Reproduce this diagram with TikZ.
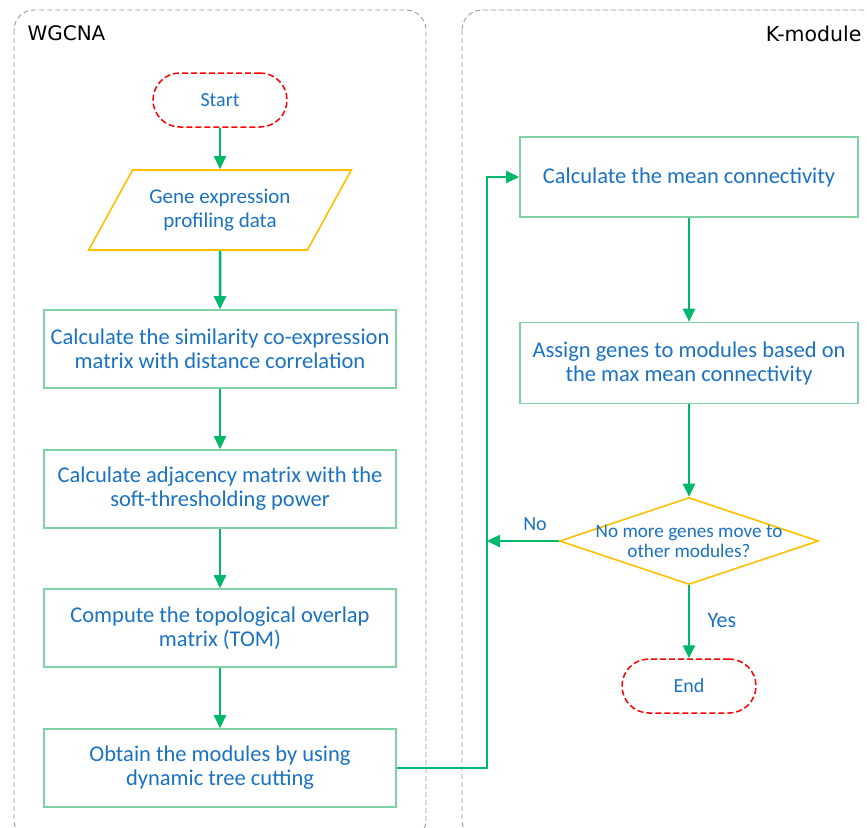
\documentclass[tikz,border=0pt]{standalone}
\usepackage{fontspec}
\setmainfont{Carlito}
\newfontfamily\titlefont{DejaVu Sans}
\usetikzlibrary{shapes.geometric,shapes.misc,arrows.meta}
\definecolor{flowgreen}{HTML}{00B86B}
\definecolor{boxgreen}{HTML}{80D2A4}
\definecolor{textblue}{HTML}{1A72C2}
\definecolor{gold}{HTML}{FFC000}
\tikzstyle{connector} = [line width=2.5pt, flowgreen, -{Triangle[length=13pt,width=12pt]}]
\tikzstyle{process} = [draw=boxgreen, line width=1.6pt, minimum width=352pt, minimum height=78pt, align=center, text=textblue, font=\fontsize{22.5}{24}\selectfont]
\tikzstyle{terminal} = [draw=red, line width=1.5pt, dash pattern=on 6pt off 3pt, rounded corners=27pt, minimum width=134pt, minimum height=54pt, text=textblue, font=\fontsize{20}{24}\selectfont]
\tikzstyle{group} = [draw=gray!80, line width=0.9pt, dash pattern=on 5pt off 3pt, rounded corners=20pt]

\begin{document}
\begin{tikzpicture}[x=1pt, y=-1pt, node distance=139pt]
                \useasboundingbox (0,0) rectangle (867,827);
                \clip (0,0) rectangle (867,827);
                % containers
                \draw [group] (14,10) rectangle (426,840);
                \draw [group] (462,10) rectangle (884,840);
                \node (wgcna) [anchor=west, font=\titlefont\fontsize{20}{24}\selectfont] at (24,33) {WGCNA};
                \node (kmod) [anchor=east, font=\titlefont\fontsize{20.5}{24}\selectfont] at (865,34) {K-module};

                % WGCNA part
                \node (start) [terminal] at (220,100) {Start};
                \node (gene) [trapezium, trapezium left angle=63.4, trapezium right angle=116.6, trapezium stretches=true, draw=gold, line width=1.6pt, inner ysep=16pt, minimum width=263pt, minimum height=80pt, align=center, text=textblue, font=\fontsize{21}{24}\selectfont, below of=start, yshift=29pt] {Gene expression\\profiling data};
                \node (simil) [process, below of=gene] {Calculate the similarity co-expression\\matrix with distance correlation};
                \node (adjac) [process, below of=simil, yshift=-1pt] {Calculate adjacency matrix with the\\soft-thresholding power};
                \node (tom) [process, below of=adjac] {Compute the topological overlap\\matrix (TOM)};
                \node (modules) [process, below of=tom, yshift=-1pt] {Obtain the modules by using\\dynamic tree cutting};

                % K-module part
                \node (meanc) [process, minimum width=338pt, minimum height=80pt] at (689,177) {Calculate the mean connectivity};
                \node (assign) [process, minimum width=338pt, minimum height=81pt, below of=meanc, yshift=-47pt] {Assign genes to modules based on\\the max mean connectivity};
                \node (check) [diamond, aspect=2.98, draw=gold, line width=1.6pt, inner xsep=0pt, inner ysep=-7pt, minimum width=259pt, minimum height=87pt, align=center, text=textblue, font=\fontsize{19.2}{20}\selectfont, below of=assign, yshift=-39pt] {No more genes move to\\other modules?};
                \node (end) [terminal, below of=check, yshift=-6pt] {End};
                \coordinate (loop) at (487,0);

                \draw [connector] (start) -- (gene);
                \draw [connector] (gene) -- (simil);
                \draw [connector] (simil) -- (adjac);
                \draw [connector] (adjac) -- (tom);
                \draw [connector] (tom) -- (modules);
                \draw [connector] (meanc) -- (assign);
                \draw [connector] (assign) -- (check);
                \draw [connector] (check) -- node [right, text=textblue, font=\fontsize{22}{24}\selectfont, xshift=14pt, yshift=1pt] (yes) {Yes} (end);
                \draw [connector] (modules.east) -| (loop |- meanc.west) -- (meanc.west);
                \draw [connector] (check.west) -- node [pos=0.33, above, text=textblue, font=\fontsize{20}{24}\selectfont, yshift=6pt] (no) {No} (loop |- check.west);
            \end{tikzpicture}
\end{document}
